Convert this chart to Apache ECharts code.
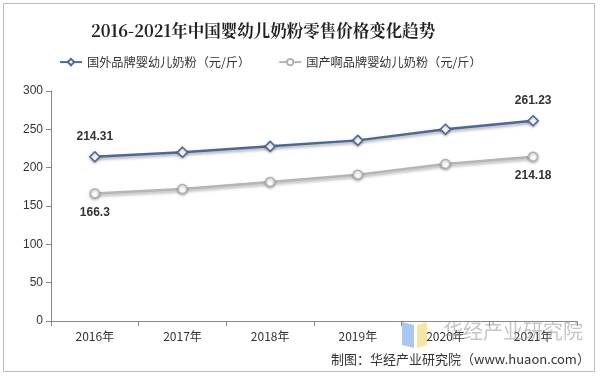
<!DOCTYPE html>
<html><head><meta charset="utf-8">
<script src="https://cdn.jsdelivr.net/npm/echarts@6/dist/echarts.min.js"></script>
<style>html,body{margin:0;padding:0;background:#fff}#c{width:600px;height:377px}</style>
</head><body><div id="c"></div>
<script>
const categories = ['2016年','2017年','2018年','2019年','2020年','2021年'];
const foreignPrice = [214.31, 220.2, 227.8, 235.6, 250.0, 261.23];
const domesticPrice = [166.3, 172.2, 181.2, 190.8, 204.8, 214.18];
const yTicks = [0, 50, 100, 150, 200, 250, 300];
const seriesNames = ['国外品牌婴幼儿奶粉（元/斤）', '国产啊品牌婴幼儿奶粉（元/斤）'];

const chart = echarts.init(document.getElementById('c'));
const cjk = '"Noto Sans CJK SC", "Noto Sans", sans-serif';
chart.setOption({
  animation: false,
  title: {
    text: '2016-2021年中国婴幼儿奶粉零售价格变化趋势',
    left: 86, top: 17,
    textStyle: { fontFamily: '"Noto Serif CJK SC", "DejaVu Serif", serif', fontWeight: 'bold', fontSize: 16.5, color: '#222' }
  },
  legend: {
    top: 51, left: 54, itemGap: 28, itemWidth: 22, itemHeight: 8, itemStyle: {},
    textStyle: { fontFamily: cjk, fontSize: 12.2, color: '#333' },
    data: [seriesNames[0], seriesNames[1]]
  },
  grid: { left: 51, right: 23, top: 91, bottom: 56 },
  xAxis: {
    type: 'category', data: categories, boundaryGap: true,
    axisLine: { lineStyle: { color: '#888' } },
    axisTick: { show: true, lineStyle: { color: '#888' } },
    axisLabel: { fontFamily: cjk, fontSize: 12, color: '#333', margin: 9 }
  },
  yAxis: {
    type: 'value', min: yTicks[0], max: yTicks[yTicks.length - 1], interval: 50,
    axisLine: { show: true, lineStyle: { color: '#888' } },
    axisTick: { show: true, lineStyle: { color: '#888' } },
    splitLine: { show: false },
    axisLabel: { fontFamily: '"Liberation Sans", Arial, sans-serif', fontSize: 12, color: '#333', margin: 8 }
  },
  series: [
    {
      name: seriesNames[0], type: 'line', data: foreignPrice,
      symbol: 'diamond', symbolSize: 10, showAllSymbol: true,
      lineStyle: { color: '#4a6899', width: 2.5, shadowColor: 'rgba(0,0,0,0.35)', shadowBlur: 3, shadowOffsetY: 2 },
      itemStyle: { color: '#fff', borderColor: '#4a6899', borderWidth: 1.5, shadowColor: 'rgba(0,0,0,0.3)', shadowBlur: 3, shadowOffsetY: 1 },
      label: {
        show: true, position: 'top', distance: 8,
        fontFamily: '"Liberation Sans", Arial, sans-serif', fontSize: 12, fontWeight: 'bold', color: '#333',
        formatter: p => (p.dataIndex === 0 || p.dataIndex === foreignPrice.length - 1) ? String(p.value) : ''
      }
    },
    {
      name: seriesNames[1], type: 'line', data: domesticPrice,
      symbol: 'circle', symbolSize: 9, showAllSymbol: true,
      lineStyle: { color: '#b5b5b5', width: 2.5, shadowColor: 'rgba(0,0,0,0.3)', shadowBlur: 3, shadowOffsetY: 2 },
      itemStyle: { color: '#fff', borderColor: '#b0b0b0', borderWidth: 1.5, shadowColor: 'rgba(0,0,0,0.3)', shadowBlur: 3, shadowOffsetY: 1 },
      label: {
        show: true, position: 'bottom', distance: 8,
        fontFamily: '"Liberation Sans", Arial, sans-serif', fontSize: 12, fontWeight: 'bold', color: '#333',
        formatter: p => (p.dataIndex === 0 || p.dataIndex === domesticPrice.length - 1) ? String(p.value) : ''
      }
    }
  ],
  graphic: [
    { type: 'rect', shape: { x: 3.5, y: 3.5, width: 591, height: 368 }, style: { fill: 'none', stroke: '#bbb', lineWidth: 1 }, z: -1 },
    { type: 'polygon', shape: { points: [[402, 322], [414, 325], [414, 348], [402, 345]] }, style: { fill: '#a9c8f0' } },
    { type: 'polygon', shape: { points: [[417, 325], [427, 322], [427, 345], [417, 348]] }, style: { fill: '#f5e7a0' } },
    { type: 'text', left: 443, top: 321, style: { text: '华经产业研究院', fontFamily: cjk, fontSize: 20, fill: 'rgba(150,150,150,0.55)' }, z: 100 },
    { type: 'text', left: 331, top: 353, style: { text: '制图：华经产业研究院（www.huaon.com）', fontFamily: cjk, fontSize: 13, fill: '#333' }, z: 101 }
  ]
});
</script></body></html>
